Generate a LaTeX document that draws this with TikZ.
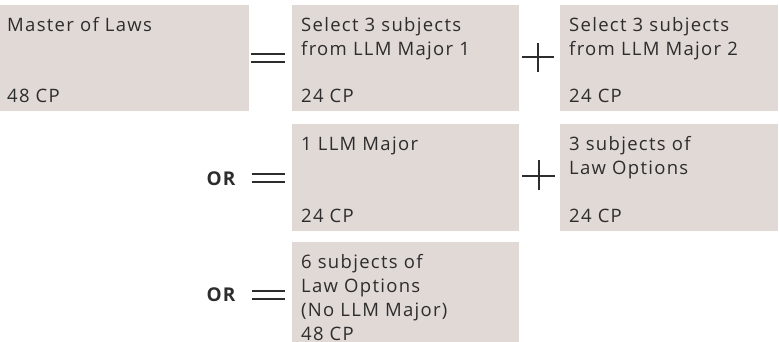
\documentclass[tikz,border=0pt]{standalone}
\usepackage{fontspec}
\setmainfont[LetterSpace=7]{Open Sans}
\usepackage{xcolor}
\definecolor{boxgray}{RGB}{224,217,214}
\definecolor{inkgray}{RGB}{45,45,45}
\usepackage{tikz}
\usetikzlibrary{calc}
\usetikzlibrary{positioning}

\begin{document}
\begin{tikzpicture}[x=1pt, y=-1pt]
	% ------------------------------------------------------------------
	% STYLE DEFINITIONS
	% ------------------------------------------------------------------
	\tikzset{
		credit/.style = {fill=boxgray, inner sep=0pt, anchor=north west},
		ctext/.style  = {inner sep=0pt, anchor=base west, align=left, text=inkgray,
		                 font=\fontsize{18.5}{24}\selectfont},
		optext/.style = {inner sep=0pt, text=inkgray, font=\bfseries\fontsize{19}{19}\selectfont},
		opline/.style = {line width=2pt, inkgray}
	}
	\useasboundingbox (0,0) rectangle (779,341);
	\clip (0,0) rectangle (779,341);
	
	% --- Row 1: Master of Laws = Major 1 + Major 2 ---
	% (base of a node with \\ is its last line)
	\node[credit, minimum width=249pt, minimum height=106pt] (mll) at (0,5) {};
	\node[ctext] (mlltop) at ($(mll.north west)+(7,26)$) {Master of Laws};
	\node[ctext] (mllcp) at ($(mll.south west)+(7,-9)$) {48 CP};
	
	\node[credit, minimum width=227pt, minimum height=106pt] (selA) at (292,5) {};
	\node[ctext] (selAtop) at ($(selA.north west)+(9,50)$) {Select 3 subjects\\from LLM Major 1};
	\node[ctext] (selAcp) at ($(selA.south west)+(9,-9)$) {24 CP};
	
	\node[credit, minimum width=218pt, minimum height=106pt] (selB) at (560,5) {};
	\node[ctext] (selBtop) at ($(selB.north west)+(9,50)$) {Select 3 subjects\\from LLM Major 2};
	\node[ctext] (selBcp) at ($(selB.south west)+(9,-9)$) {24 CP};
	
	\draw[opline] (251,54) -- (285,54) (251,62) -- (285,62);     % =
	\draw[opline] (522,57) -- (554,57) (538,43) -- (538,72);     % +
	
	% --- Row 2: OR = 1 LLM Major + 3 Law Options ---
	\node[credit, minimum width=227pt, minimum height=107pt] (major) at (292,124) {};
	\node[ctext] (majortop) at ($(major.north west)+(9,26)$) {1 LLM Major};
	\node[ctext] (majorcp) at ($(major.south west)+(9,-9)$) {24 CP};
	
	\node[credit, minimum width=218pt, minimum height=107pt] (lawopt) at (560,124) {};
	\node[ctext] (lawopttop) at ($(lawopt.north west)+(9,50)$) {3 subjects of\\Law Options};
	\node[ctext] (lawoptcp) at ($(lawopt.south west)+(9,-9)$) {24 CP};
	
	\node[optext] (orA) at (221,179) {OR};
	\draw[opline] (252,173.5) -- (285,173.5) (252,182) -- (285,182);  % =
	\draw[opline] (522,176) -- (555,176) (538.5,160) -- (538.5,190);  % +
	
	% --- Row 3: OR = 6 Law Options ---
	\node[credit, minimum width=227pt, minimum height=110pt] (sixopt) at (292,242) {};
	\node[ctext] (sixopttop) at ($(sixopt.north west)+(9,98)$) {6 subjects of\\Law Options\\(No LLM Major)\\48 CP};
	
	\node[optext] (orB) at (221,295) {OR};
	\draw[opline] (252,291) -- (285,291) (252,299) -- (285,299);  % =
	
\end{tikzpicture}
\end{document}
